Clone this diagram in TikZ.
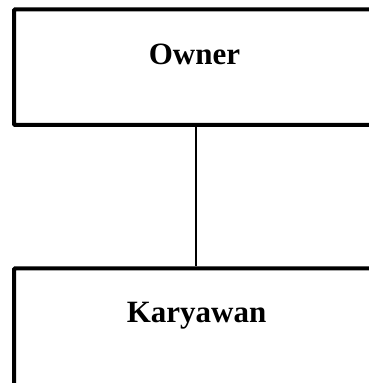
\documentclass[tikz,border=0pt]{standalone}
\usepackage{fontspec}
\setmainfont{Liberation Serif}
\begin{document}
\begin{tikzpicture}[x=1pt,y=1pt,
  orgbox/.style={draw=black,line width=4pt,minimum width=364pt,minimum height=115.5pt,inner sep=0pt,rounded corners=1pt},
  lbl/.style={font=\fontsize{31}{36}\selectfont\bfseries,inner sep=0pt,anchor=base},
  conn/.style={draw=black,line width=1.4pt}]
\useasboundingbox (0,0) rectangle (369,383);
\clip (0,0) rectangle (369,383);
\node[orgbox] (owner) at (196,315.75) {};
\node[orgbox,minimum height=130pt] (kary) at (196,49.5) {};
\node[lbl] (ownertxt) at (194.5,318) {Owner};
\node[lbl] (karytxt) at (196.5,60) {Karyawan};
\draw[conn] (owner.south) -- (kary.north);
\end{tikzpicture}
\end{document}
